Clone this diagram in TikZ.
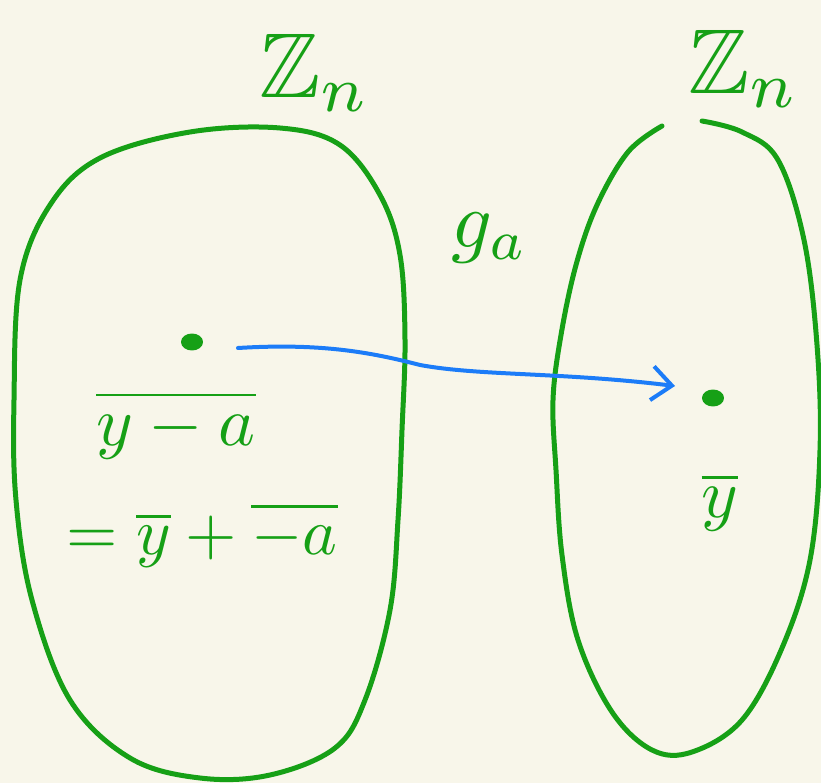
\documentclass[tikz,border=0pt]{standalone}
\usepackage{amssymb}
\usepackage{graphicx}
\usetikzlibrary{arrows.meta,shapes.geometric}
\definecolor{bg}{HTML}{F8F6EA}
\definecolor{grn}{HTML}{16A016}
\definecolor{blu}{HTML}{1C7CF8}
\newcommand{\bigtxt}[2]{\scalebox{#1}{#2}}
\begin{document}
\begin{tikzpicture}[x=1pt,y=-1pt,line cap=round,line join=round,
  blob/.style={draw=grn,line width=5pt},
  lbl/.style={text=grn,inner sep=0pt},
  dotmark/.style={ellipse,draw=grn,fill=grn,line width=2pt,inner sep=0pt,minimum width=20pt,minimum height=15pt},
  arr/.style={draw=blu,line width=4pt,-{Straight Barb[length=20pt,width=34pt,line width=4pt]}}]
\fill[bg] (0,0) rectangle (821,783);
\useasboundingbox (0,0) rectangle (821,783);
% left set
\draw[blob] plot[smooth cycle,tension=0.6] coordinates {
 (340,145) (380,195) (400,255) (405,340) (402,430) (398,520) (390,610)
 (365,700) (335,748) (270,775) (200,778) (130,758) (70,700) (32,600)
 (16,500) (14,400) (20,280) (50,205) (100,158) (190,132) (280,128)};
% right set
\draw[blob] plot[smooth,tension=0.6] coordinates {
 (662,126) (628,152) (597,205) (576,265) (561,335) (553,400) (556,470)
 (562,555) (578,640) (612,712) (652,750) (692,752) (742,720) (782,648)
 (810,560) (820,450) (817,345) (804,240) (778,160) (742,132) (702,121)};
% labels
\node[lbl] (z1) at (315,73) {\bigtxt{9.2}{$\mathbb{Z}_n$}};
\node[lbl] (z2) at (744,69) {\bigtxt{9.2}{$\mathbb{Z}_n$}};
\node[lbl] (g) at (490,238) {\bigtxt{8}{$g_a$}};
% elements
\node[dotmark] (d1) at (192,342) {};
\node[dotmark] (d2) at (713,398) {};
\node[lbl] (t1) at (176,425) {\bigtxt{7}{$\overline{y-a}$}};
\node[lbl] (t2) at (202,535) {\bigtxt{6.6}{$=\overline{y}+\overline{-a}$}};
\node[lbl] (t3) at (720,502) {\bigtxt{7}{$\overline{y}$}};
% map
\coordinate (as) at (238,348);
\coordinate (ae) at (675,386);
\draw[arr] (as) .. controls (320,343) and (370,352) .. (420,365)
  .. controls (480,376) and (560,372) .. (ae);
\end{tikzpicture}
\end{document}
